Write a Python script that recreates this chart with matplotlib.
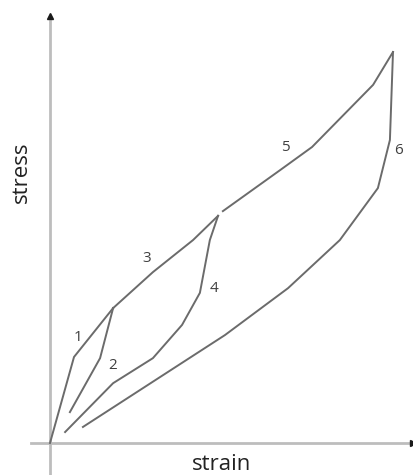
import matplotlib
matplotlib.use("Agg")
import matplotlib.pyplot as plt

# schematic stress-strain loading/unloading paths (arbitrary units, 0-100)
strain1 = [0.0, 7.0, 18.4]
stress1 = [0.0, 22.0, 34.5]

strain2 = [18.4, 14.6, 5.8]
stress2 = [34.5, 21.7, 7.9]

strain3 = [18.4, 30.0, 41.7, 49.0]
stress3 = [34.5, 43.7, 51.9, 58.1]

strain4 = [49.0, 46.6, 43.7, 38.5, 30.0, 18.4, 4.4]
stress4 = [58.1, 51.9, 38.4, 30.2, 21.7, 15.3, 2.8]

strain5 = [50.4, 67.1, 76.4, 94.2, 100.0]
stress5 = [59.3, 69.8, 75.7, 91.6, 100.0]

strain6 = [100.0, 99.1, 95.6, 84.5, 69.4, 51.0, 9.6]
stress6 = [100.0, 77.5, 65.2, 51.9, 39.6, 27.6, 4.1]

labels = ["1", "2", "3", "4", "5", "6"]
label_x = [8.2, 18.4, 28.3, 47.8, 68.5, 101.7]
label_y = [26.9, 19.7, 47.1, 39.6, 75.7, 74.9]

plt.rcParams['font.family'] = ['Open Sans', 'DejaVu Sans']

fig = plt.figure(figsize=(4.14, 4.75), dpi=100)
ax = fig.add_axes([50/414, 32/475, 343/414, 391/475])
ax.set_xlim(0, 100)
ax.set_ylim(0, 100)
ax.axis('off')

# axes with arrows
ax.plot([-5.5, 105.5], [0, 0], color='#bdbdbd', lw=2, clip_on=False, zorder=1)
ax.plot([0, 0], [-9.5, 108], color='#bdbdbd', lw=2, clip_on=False, zorder=1)
ax.plot([0], [109.3], marker='^', color='#1a1a1a', ms=5, clip_on=False)
ax.plot([105.8], [0], marker='>', color='#1a1a1a', ms=5, clip_on=False)

col = '#6b6b6b'
for sx, sy in [(strain1, stress1), (strain2, stress2), (strain3, stress3),
               (strain4, stress4), (strain5, stress5), (strain6, stress6)]:
    ax.plot(sx, sy, color=col, lw=1.4, solid_joinstyle='miter', clip_on=False)

for t, x, y in zip(labels, label_x, label_y):
    ax.text(x, y, t, fontsize=11, color='#404040', ha='center', va='center')

ax.text(-8.2, 69.3, "stress", rotation=90, fontsize=16, color='#222222',
        ha='center', va='center')
ax.text(50.1, -5.6, "strain", fontsize=16, color='#222222',
        ha='center', va='center')

fig.savefig("out.png", dpi=100)
